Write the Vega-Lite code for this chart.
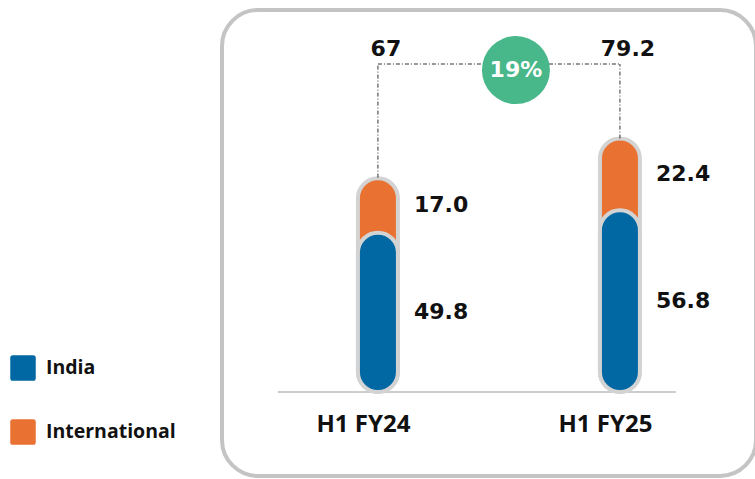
{
  "$schema": "https://vega.github.io/schema/vega-lite/v6.json",
  "width": 534,
  "height": 466,
  "autosize": {"type": "none"},
  "padding": {"left": 222, "top": 10, "right": 0, "bottom": 3},
  "background": "white",
  "config": {
    "view": {"cornerRadius": 36, "stroke": "#c4c4c4", "strokeWidth": 4, "fill": "white"}
  },
  "datasets": {
    "segments": [
      {"period": "H1 FY24", "segment": "India", "value": 49.8},
      {"period": "H1 FY24", "segment": "International", "value": 17.0},
      {"period": "H1 FY25", "segment": "India", "value": 56.8},
      {"period": "H1 FY25", "segment": "International", "value": 22.4}
    ],
    "totals": [
      {"period": "H1 FY24", "total": 67},
      {"period": "H1 FY25", "total": 79.2}
    ],
    "growth": [{"label": "19%"}]
  },
  "layer": [
    {
      "data": {"name": "growth"},
      "mark": {"type": "rule", "color": "#cdcdcd", "strokeWidth": 2, "xOffset": -100, "x2Offset": 56},
      "encoding": {
        "x": {"datum": "H1 FY24", "type": "nominal", "scale": {"type": "point", "domain": ["H1 FY24", "H1 FY25"], "padding": 0.6033, "align": 0.534}},
        "x2": {"datum": "H1 FY25"},
        "y": {"datum": 0, "type": "quantitative", "scale": {"domain": [-26.25, 119.375], "nice": false, "zero": false}, "axis": null}
      }
    },
    {
      "data": {"name": "segments"},
      "transform": [
        {"joinaggregate": [{"op": "sum", "field": "value", "as": "total"}], "groupby": ["period"]},
        {"filter": "datum.segment === 'International'"}
      ],
      "mark": {"type": "bar", "width": 40, "cornerRadius": 20, "stroke": "#d3d3d3", "strokeWidth": 4},
      "encoding": {
        "x": {
          "field": "period", "type": "nominal",
          "scale": {"type": "point", "domain": ["H1 FY24", "H1 FY25"], "padding": 0.6033, "align": 0.534},
          "axis": {"orient": "bottom", "offset": -84, "domain": false, "ticks": false, "grid": false, "title": null, "labelAngle": 0, "labelAlign": "center", "labelBaseline": "top", "labelPadding": 20, "labelFont": "Open Sans", "labelFontWeight": "bold", "labelFontSize": 24, "labelColor": "#111111", "labelOffset": -15}
        },
        "y": {"field": "total", "type": "quantitative", "stack": null, "axis": null},
        "color": {
          "field": "segment", "type": "nominal",
          "scale": {"domain": ["India", "International"], "range": ["#0168a4", "#e97132"]},
          "legend": {
            "orient": "none", "legendX": -212, "legendY": 345, "title": null, "direction": "vertical", "padding": 0,
            "symbolType": "M-0.8,-1H0.8Q1,-1 1,-0.8V0.8Q1,1 0.8,1H-0.8Q-1,1 -1,0.8V-0.8Q-1,-1 -0.8,-1Z",
            "symbolSize": 650, "symbolStrokeWidth": 0, "symbolOpacity": 1,
            "labelFont": "Open Sans", "labelFontWeight": "bold", "labelFontSize": 19.5, "labelColor": "#111111",
            "labelOffset": 10, "rowPadding": 38
          }
        }
      }
    },
    {
      "data": {"name": "segments"},
      "transform": [{"filter": "datum.segment === 'India'"}],
      "mark": {"type": "bar", "width": 40, "cornerRadius": 20, "stroke": "#d3d3d3", "strokeWidth": 4},
      "encoding": {
        "x": {"field": "period", "type": "nominal"},
        "y": {"field": "value", "type": "quantitative", "stack": null, "axis": null},
        "color": {"field": "segment", "type": "nominal"}
      }
    },
    {
      "data": {"name": "totals"},
      "mark": {"type": "rule", "color": "#333333", "strokeWidth": 1, "strokeDash": [4, 2, 1, 2]},
      "encoding": {
        "x": {"field": "period", "type": "nominal"},
        "y": {"field": "total", "type": "quantitative", "axis": null},
        "y2": {"datum": 102.5}
      }
    },
    {
      "data": {"name": "growth"},
      "mark": {"type": "rule", "color": "#333333", "strokeWidth": 1, "strokeDash": [4, 2, 1, 2]},
      "encoding": {
        "x": {"datum": "H1 FY24", "type": "nominal"},
        "x2": {"datum": "H1 FY25"},
        "y": {"datum": 102.5, "type": "quantitative", "axis": null}
      }
    },
    {
      "data": {"name": "totals"},
      "mark": {"type": "text", "dx": 8, "baseline": "middle", "align": "center", "font": "DejaVu Sans", "fontWeight": "bold", "fontSize": 22, "color": "#111111"},
      "encoding": {
        "x": {"field": "period", "type": "nominal"},
        "y": {"datum": 107.2, "type": "quantitative", "axis": null},
        "text": {"field": "total", "type": "quantitative", "format": "~g"}
      }
    },
    {
      "data": {"name": "segments"},
      "transform": [
        {"stack": "value", "groupby": ["period"], "sort": [{"field": "segment", "order": "ascending"}], "as": ["y0", "y1"]},
        {"fold": ["y0", "y1"], "as": ["k", "v"]},
        {"aggregate": [{"op": "mean", "field": "v", "as": "mid"}, {"op": "max", "field": "value", "as": "value"}], "groupby": ["period", "segment"]}
      ],
      "mark": {"type": "text", "dx": 36, "baseline": "middle", "align": "left", "font": "DejaVu Sans", "fontWeight": "bold", "fontSize": 22, "color": "#111111"},
      "encoding": {
        "x": {"field": "period", "type": "nominal"},
        "y": {"field": "mid", "type": "quantitative", "axis": null},
        "text": {"field": "value", "type": "quantitative", "format": ".1f"}
      }
    },
    {
      "data": {"name": "growth"},
      "mark": {"type": "point", "shape": "circle", "filled": true, "size": 4624, "color": "#48b78a", "opacity": 1, "xOffset": 138},
      "encoding": {
        "x": {"datum": "H1 FY24", "type": "nominal"},
        "y": {"datum": 100.6, "type": "quantitative", "axis": null}
      }
    },
    {
      "data": {"name": "growth"},
      "mark": {"type": "text", "xOffset": 138, "baseline": "middle", "align": "center", "font": "DejaVu Sans", "fontWeight": "bold", "fontSize": 22, "color": "white"},
      "encoding": {
        "x": {"datum": "H1 FY24", "type": "nominal"},
        "y": {"datum": 100.6, "type": "quantitative", "axis": null},
        "text": {"field": "label", "type": "nominal"}
      }
    }
  ]
}
